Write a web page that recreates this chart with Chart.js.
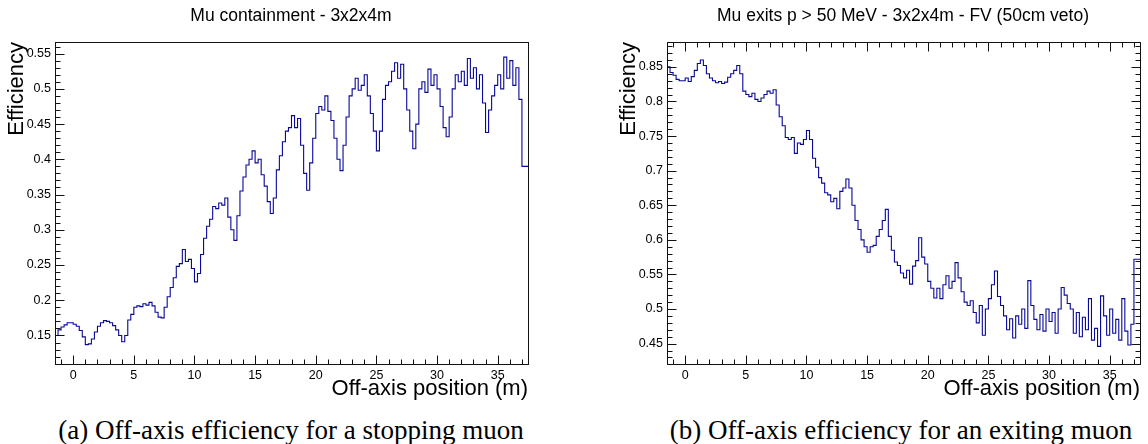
<!DOCTYPE html>
<html>
<head>
<meta charset="utf-8">
<title>Off-axis efficiency</title>
<script src="https://cdn.jsdelivr.net/npm/chart.js@4/dist/chart.umd.min.js"></script>
<style>
  body { margin: 0; background: #fff; }
  #page { position: relative; width: 1148px; height: 444px; overflow: hidden; background: #fff; }
  canvas { position: absolute; top: 0; }
  .title {
    position: absolute; top: 15px; transform: translate(-50%, -50%);
    font: 17.5px "Liberation Sans", Arial, sans-serif; color: #000; white-space: nowrap;
  }
  .caption {
    position: absolute; top: 430px; transform: translate(-50%, -50%);
    font: 27px "Liberation Serif", "Times New Roman", serif; color: #000; white-space: nowrap;
  }
</style>
</head>
<body>
<div id="page">
  <canvas id="stopChart" width="574" height="400" style="left:0"></canvas>
  <canvas id="exitChart" width="574" height="400" style="left:574px"></canvas>
  <div class="title" style="left:291px">Mu containment - 3x2x4m</div>
  <div class="title" style="left:903px">Mu exits p &gt; 50 MeV - 3x2x4m - FV (50cm veto)</div>
  <div class="caption" style="left:291px">(a) Off-axis efficiency for a stopping muon</div>
  <div class="caption" style="left:901px">(b) Off-axis efficiency for an exiting muon</div>
</div>
<script>
// histogram binning (off-axis position, m)
const xMin = -1.5;
const xMax = 37.5;
const binWidth = 0.25;
const xTicks = [0, 5, 10, 15, 20, 25, 30, 35];

// stopping muon containment efficiency, one value per bin starting at xMin
const stopEff = [
  0.131, 0.150, 0.158, 0.162, 0.165, 0.168, 0.168, 0.166, 0.163, 0.157,
  0.148, 0.137, 0.138, 0.145, 0.155, 0.163, 0.168, 0.171, 0.170, 0.168,
  0.164, 0.158, 0.150, 0.141, 0.150, 0.172, 0.180, 0.190, 0.192, 0.191,
  0.195, 0.193, 0.197, 0.192, 0.183, 0.176, 0.175, 0.190, 0.205, 0.218,
  0.232, 0.248, 0.252, 0.272, 0.255, 0.258, 0.245, 0.226, 0.238, 0.265,
  0.288, 0.305, 0.315, 0.333, 0.330, 0.338, 0.335, 0.345, 0.318, 0.300,
  0.285, 0.320, 0.355, 0.375, 0.392, 0.400, 0.412, 0.395, 0.400, 0.378,
  0.362, 0.340, 0.323, 0.345, 0.385, 0.405, 0.425, 0.440, 0.445, 0.462,
  0.445, 0.458, 0.420, 0.380, 0.356, 0.395, 0.430, 0.465, 0.475, 0.470,
  0.490, 0.468, 0.455, 0.430, 0.400, 0.384, 0.420, 0.460, 0.490, 0.500,
  0.515, 0.498, 0.505, 0.520, 0.490, 0.465, 0.440, 0.412, 0.440, 0.485,
  0.505, 0.510, 0.525, 0.537, 0.515, 0.535, 0.500, 0.470, 0.440, 0.415,
  0.450, 0.500, 0.510, 0.495, 0.528, 0.505, 0.520, 0.500, 0.475, 0.445,
  0.432, 0.460, 0.500, 0.520, 0.510, 0.525, 0.505, 0.543, 0.515, 0.530,
  0.500, 0.520, 0.480, 0.438, 0.470, 0.490, 0.505, 0.520, 0.500, 0.545,
  0.515, 0.540, 0.505, 0.530, 0.485, 0.390
];

// exiting muon (p > 50 MeV) efficiency, same binning
const exitEff = [
  0.864, 0.850, 0.842, 0.838, 0.832, 0.830, 0.830, 0.834, 0.829, 0.836,
  0.845, 0.855, 0.860, 0.852, 0.840, 0.834, 0.830, 0.827, 0.829, 0.826,
  0.828, 0.835, 0.840, 0.845, 0.852, 0.840, 0.815, 0.810, 0.807, 0.812,
  0.803, 0.800, 0.805, 0.810, 0.815, 0.812, 0.817, 0.795, 0.778, 0.765,
  0.748, 0.745, 0.748, 0.725, 0.740, 0.738, 0.745, 0.758, 0.745, 0.718,
  0.705, 0.690, 0.682, 0.668, 0.665, 0.655, 0.660, 0.645, 0.670, 0.675,
  0.688, 0.675, 0.650, 0.628, 0.615, 0.600, 0.590, 0.582, 0.590, 0.592,
  0.605, 0.615, 0.628, 0.644, 0.605, 0.585, 0.568, 0.563, 0.552, 0.545,
  0.556, 0.536, 0.562, 0.570, 0.603, 0.575, 0.565, 0.540, 0.530, 0.516,
  0.530, 0.515, 0.535, 0.548, 0.530, 0.540, 0.567, 0.545, 0.525, 0.510,
  0.505, 0.512, 0.495, 0.480, 0.505, 0.462, 0.500, 0.515, 0.535, 0.555,
  0.518, 0.505, 0.490, 0.470, 0.486, 0.458, 0.490, 0.478, 0.500, 0.472,
  0.541, 0.505, 0.485, 0.470, 0.492, 0.468, 0.500, 0.482, 0.495, 0.465,
  0.500, 0.531, 0.520, 0.508, 0.500, 0.465, 0.495, 0.460, 0.488, 0.470,
  0.515, 0.455, 0.472, 0.446, 0.519, 0.490, 0.462, 0.500, 0.465, 0.485,
  0.455, 0.515, 0.468, 0.448, 0.478, 0.572
];

const stopTicks = [0.15, 0.2, 0.25, 0.3, 0.35, 0.4, 0.45, 0.5, 0.55];
const exitTicks = [0.45, 0.5, 0.55, 0.6, 0.65, 0.7, 0.75, 0.8, 0.85];

const FONT = '"Liberation Sans", Arial, sans-serif';
const LINE = '#08089a';

// bin low edges -> points for a step line, last edge closes the final bin
function histPoints(values) {
  const pts = values.map((v, i) => ({ x: xMin + i * binWidth, y: v }));
  pts.push({ x: xMin + values.length * binWidth, y: values[values.length - 1] });
  return pts;
}

// ROOT style frame: box plus inward major/minor ticks
const rootFrame = {
  id: 'rootFrame',
  afterDraw(chart, args, opts) {
    const { ctx, chartArea: a, scales: { x, y } } = chart;
    const L = Math.round(a.left) + 0.5, R = Math.round(a.right) + 0.5;
    const T = Math.round(a.top) + 0.5, B = Math.round(a.bottom) + 0.5;
    const seg = (x1, y1, x2, y2) => { ctx.beginPath(); ctx.moveTo(x1, y1); ctx.lineTo(x2, y2); ctx.stroke(); };
    ctx.save();
    ctx.strokeStyle = '#111';
    ctx.lineWidth = 1;
    ctx.strokeRect(L, T, R - L, B - T);
    for (let v = Math.ceil(x.min); v <= x.max; v++) {
      const px = Math.round(x.getPixelForValue(v)) + 0.5;
      const len = v % 5 === 0 ? 9 : 5;
      seg(px, B, px, B - len);
      if (opts.mirror) seg(px, T, px, T + len);
    }
    for (let k = Math.ceil(y.min * 100); k <= Math.floor(y.max * 100); k++) {
      const py = Math.round(y.getPixelForValue(k / 100)) + 0.5;
      const len = k % 5 === 0 ? 9 : 5;
      seg(L, py, L + len, py);
      if (opts.mirror) seg(R, py, R - len, py);
    }
    ctx.restore();
  }
};

function makeChart(id, values, yMin, yMax, yTicks, pad, mirror) {
  return new Chart(document.getElementById(id), {
    type: 'line',
    data: {
      datasets: [{
        data: histPoints(values),
        stepped: 'after',
        borderColor: LINE,
        borderWidth: 1.1,
        pointRadius: 0,
        fill: false
      }]
    },
    options: {
      responsive: false,
      animation: false,
      layout: { padding: pad },
      plugins: { legend: { display: false }, tooltip: { enabled: false }, rootFrame: { mirror: mirror } },
      scales: {
        x: {
          type: 'linear', min: xMin, max: xMax,
          afterBuildTicks: s => { s.ticks = xTicks.map(v => ({ value: v })); },
          afterFit: s => { s.height = 36; },
          grid: { display: false, drawTicks: false },
          border: { display: false },
          ticks: { color: '#000', font: { family: FONT, size: 12.5 }, padding: 4, maxRotation: 0 },
          title: { display: true, text: 'Off-axis position (m)', align: 'end', color: '#000',
                   font: { family: FONT, size: 22, lineHeight: 1 }, padding: 0 }
        },
        y: {
          type: 'linear', min: yMin, max: yMax,
          afterBuildTicks: s => { s.ticks = yTicks.map(v => ({ value: v })); },
          afterFit: s => { s.width = 55; },
          grid: { display: false, drawTicks: false },
          border: { display: false },
          ticks: { color: '#000', font: { family: FONT, size: 12.5 }, padding: 4,
                   callback: v => String(+v.toFixed(2)) },
          title: { display: true, text: 'Efficiency', align: 'end', color: '#000',
                   font: { family: FONT, size: 22, lineHeight: 1 }, padding: { top: 6, bottom: 0 } }
        }
      }
    },
    plugins: [rootFrame]
  });
}

makeChart('stopChart', stopEff, 0.1095, 0.5665, stopTicks, { left: 0, top: 42, right: 46, bottom: 0 }, false);
makeChart('exitChart', exitEff, 0.4205, 0.886, exitTicks, { left: 38, top: 42, right: 8, bottom: 0 }, true);
</script>
</body>
</html>
